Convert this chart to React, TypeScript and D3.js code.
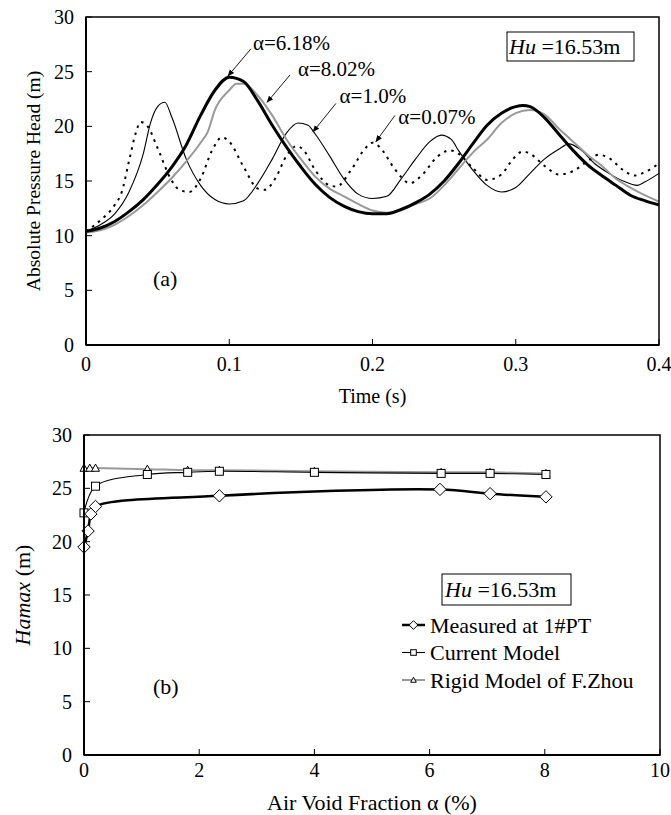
import React from 'react';
import * as d3 from 'd3';

const W = 671;
const H = 815;
const FONT = '"Liberation Serif", "Times New Roman", serif';

// (a) pressure head histories, [time (s), head (m)]
const alpha618 = [
  [0, 10.4], [0.01, 10.7], [0.02, 11.3], [0.03, 12.2], [0.04, 13.3], [0.05, 14.7],
  [0.06, 16.3], [0.07, 18.3], [0.08, 21.0], [0.09, 23.3], [0.1, 24.5], [0.11, 24.1],
  [0.12, 22.3], [0.13, 20.1], [0.14, 18.1], [0.15, 16.3], [0.16, 14.7], [0.17, 13.5],
  [0.18, 12.7], [0.19, 12.2], [0.2, 12.0], [0.21, 12.0], [0.22, 12.4], [0.23, 13.0],
  [0.24, 13.8], [0.25, 15.0], [0.26, 16.6], [0.27, 18.4], [0.28, 20.1], [0.29, 21.2],
  [0.3, 21.8], [0.305, 21.9], [0.31, 21.8], [0.32, 20.8], [0.33, 19.3], [0.34, 17.8],
  [0.35, 16.5], [0.36, 15.5], [0.37, 14.6], [0.38, 13.7], [0.39, 13.2], [0.4, 12.8],
];
const alpha802 = [
  [0, 10.3], [0.01, 10.5], [0.02, 11.0], [0.03, 11.8], [0.04, 12.8], [0.05, 14.0],
  [0.06, 15.3], [0.07, 16.8], [0.08, 18.5], [0.085, 19.5], [0.09, 21.5], [0.1, 23.3],
  [0.105, 23.9], [0.11, 23.9], [0.12, 22.8], [0.13, 21.0], [0.14, 18.8], [0.15, 17.0],
  [0.16, 15.4], [0.17, 14.3], [0.18, 13.6], [0.19, 12.9], [0.2, 12.3], [0.21, 12.1],
  [0.22, 12.3], [0.23, 12.9], [0.24, 13.4], [0.25, 14.6], [0.26, 16.1], [0.27, 17.6],
  [0.28, 18.8], [0.29, 20.3], [0.3, 21.2], [0.31, 21.5], [0.32, 21.1], [0.33, 19.8],
  [0.34, 18.6], [0.35, 17.4], [0.36, 16.4], [0.37, 15.2], [0.38, 14.4], [0.39, 13.7],
  [0.4, 13.1],
];
const alpha10 = [
  [0, 10.4], [0.01, 11.0], [0.02, 12.0], [0.03, 14.0], [0.04, 17.5], [0.045, 20.3],
  [0.05, 21.8], [0.055, 22.2], [0.06, 20.8], [0.07, 17.0], [0.08, 14.6], [0.09, 13.3],
  [0.1, 12.9], [0.11, 13.2], [0.12, 14.8], [0.13, 17.0], [0.14, 19.4], [0.148, 20.3],
  [0.155, 20.1], [0.16, 19.3], [0.17, 17.3], [0.18, 15.2], [0.19, 13.8], [0.2, 13.4],
  [0.21, 13.6], [0.22, 15.2], [0.23, 17.0], [0.24, 18.6], [0.248, 19.2], [0.255, 18.8],
  [0.26, 17.8], [0.27, 16.0], [0.28, 14.6], [0.29, 14.0], [0.3, 14.4], [0.31, 15.7],
  [0.32, 17.0], [0.33, 17.9], [0.337, 18.4], [0.345, 17.9], [0.355, 16.6], [0.365, 15.7],
  [0.375, 15.0], [0.385, 14.6], [0.39, 14.9], [0.4, 15.7],
];
const alpha007 = [
  [0, 10.4], [0.01, 11.4], [0.02, 12.8], [0.025, 14.0], [0.03, 16.8], [0.035, 19.5],
  [0.038, 20.4], [0.043, 20.0], [0.05, 18.0], [0.06, 15.0], [0.065, 14.2], [0.072, 14.0],
  [0.08, 15.2], [0.088, 17.8], [0.095, 19.0], [0.1, 18.6], [0.11, 16.3], [0.12, 14.3],
  [0.125, 14.2], [0.132, 15.2], [0.14, 17.3], [0.147, 18.2], [0.152, 17.8], [0.16, 16.0],
  [0.17, 14.6], [0.175, 14.5], [0.185, 16.0], [0.195, 18.0], [0.2, 18.5], [0.205, 18.1],
  [0.215, 16.2], [0.226, 14.8], [0.235, 15.6], [0.245, 17.2], [0.254, 17.8], [0.26, 17.5],
  [0.27, 16.2], [0.28, 15.1], [0.29, 15.6], [0.298, 17.0], [0.305, 17.7], [0.31, 17.5],
  [0.32, 16.4], [0.33, 15.6], [0.34, 15.9], [0.35, 16.8], [0.358, 17.4], [0.365, 17.1],
  [0.375, 16.0], [0.383, 15.5], [0.39, 15.8], [0.4, 16.6],
];
const timeTicks = [0, 0.1, 0.2, 0.3, 0.4];
const headTicks = [0, 5, 10, 15, 20, 25, 30];

// labels with arrows: text position and arrow start/end, in data units
const curveNotes = [
  { label: 'α=6.18%', tx: 0.1166, ty: 27.0, from: [0.1152, 27.1], to: [0.0991, 24.6] },
  { label: 'α=8.02%', tx: 0.148, ty: 24.6, from: [0.1424, 24.7], to: [0.1264, 22.2] },
  { label: 'α=1.0%', tx: 0.177, ty: 22.1, from: [0.1745, 22.1], to: [0.1585, 19.5] },
  { label: 'α=0.07%', tx: 0.218, ty: 20.2, from: [0.2157, 21.0], to: [0.2024, 18.6] },
];

// (b) maximum head vs air void fraction, [alpha (%), Hamax (m)]
const measured = [
  [0, 19.5], [0.07, 21.0], [0.12, 22.6], [0.2, 23.3], [2.35, 24.3], [6.18, 24.9],
  [7.05, 24.5], [8.02, 24.2],
];
const currentModel = [
  [0, 22.7], [0.2, 25.2], [1.1, 26.3], [1.8, 26.5], [2.35, 26.6], [4.0, 26.5],
  [6.2, 26.4], [7.05, 26.4], [8.02, 26.3],
];
const rigidModel = [
  [0, 26.9], [0.1, 26.9], [0.2, 26.9], [1.1, 26.8], [1.8, 26.7], [2.35, 26.7],
  [4.0, 26.6], [6.2, 26.5], [7.05, 26.5], [8.02, 26.4],
];
const alphaTicks = [0, 2, 4, 6, 8, 10];
const hamaxTicks = [0, 5, 10, 15, 20, 25, 30];

const legendItems = ['Measured at 1#PT', 'Current Model', 'Rigid Model of F.Zhou'];

function Marker({ kind, x, y, s }: { kind: string; x: number; y: number; s: number }) {
  if (kind === 'diamond') {
    const r = s * 0.62;
    return (
      <path d={`M${x},${y - r}L${x + r},${y}L${x},${y + r}L${x - r},${y}Z`}
        fill="white" stroke="black" strokeWidth={1} />
    );
  }
  if (kind === 'square') {
    const r = s / 2;
    return <rect x={x - r} y={y - r} width={s} height={s} fill="white" stroke="black" strokeWidth={1} />;
  }
  const r = s / 2;
  return (
    <path d={`M${x},${y - r}L${x + r},${y + r * 0.8}L${x - r},${y + r * 0.8}Z`}
      fill="white" stroke="black" strokeWidth={1} />
  );
}

function TopChart() {
  const left = 86, right = 659, top = 17, bottom = 345;
  const x = d3.scaleLinear().domain([0, 0.4]).range([left, right]);
  const y = d3.scaleLinear().domain([0, 30]).range([bottom, top]);
  const line = d3.line<number[]>().x(d => x(d[0])).y(d => y(d[1])).curve(d3.curveMonotoneX);

  return (
    <g>
      <path d={line(alpha007)!} fill="none" stroke="black" strokeWidth={2} strokeDasharray="2.5,5" />
      <path d={line(alpha10)!} fill="none" stroke="black" strokeWidth={1.1} />
      <path d={line(alpha802)!} fill="none" stroke="#999" strokeWidth={2} />
      <path d={line(alpha618)!} fill="none" stroke="black" strokeWidth={3} />

      <rect x={left} y={top} width={right - left} height={bottom - top} fill="none" stroke="black" strokeWidth={1.5} />
      <line x1={left} x2={left} y1={top} y2={bottom} stroke="black" strokeWidth={2} />
      <line x1={left} x2={right} y1={bottom} y2={bottom} stroke="black" strokeWidth={2} />

      {headTicks.map(t => (
        <g key={`hy${t}`}>
          <line x1={left} x2={left + 6} y1={y(t)} y2={y(t)} stroke="black" strokeWidth={1} />
          <text x={left - 12} y={y(t)} dy="0.35em" textAnchor="end" fontSize={20}>{t}</text>
        </g>
      ))}
      {timeTicks.map(t => (
        <g key={`tx${t}`}>
          <line x1={x(t)} x2={x(t)} y1={bottom} y2={bottom - 6} stroke="black" strokeWidth={1} />
          <text x={x(t)} y={bottom + 26} textAnchor="middle" fontSize={20}>{t}</text>
        </g>
      ))}

      <text x={(left + right) / 2} y={403} textAnchor="middle" fontSize={20}>Time (s)</text>
      <text transform={`translate(40,${(top + bottom) / 2}) rotate(-90)`} textAnchor="middle" fontSize={19.5}>
        Absolute Pressure Head (m)
      </text>

      {curveNotes.map(n => (
        <g key={n.label}>
          <line x1={x(n.from[0])} y1={y(n.from[1])} x2={x(n.to[0])} y2={y(n.to[1])}
            stroke="black" strokeWidth={0.9} markerEnd="url(#arrowHead)" />
          <text x={x(n.tx)} y={y(n.ty)} fontSize={21}>{n.label}</text>
        </g>
      ))}

      <rect x={507} y={32} width={127} height={29} fill="white" stroke="black" strokeWidth={1} />
      <text x={509} y={54} fontSize={22}>
        <tspan fontStyle="italic">Hu</tspan> =16.53m
      </text>
      <text x={153} y={286} fontSize={22}>(a)</text>
    </g>
  );
}

function BottomChart() {
  const left = 84, right = 660, top = 435, bottom = 755;
  const x = d3.scaleLinear().domain([0, 10]).range([left, right]);
  const y = d3.scaleLinear().domain([0, 30]).range([bottom, top]);
  const line = d3.line<number[]>().x(d => x(d[0])).y(d => y(d[1])).curve(d3.curveCatmullRom.alpha(0.5));

  const series = [
    { data: rigidModel, kind: 'triangle', stroke: '#999', width: 2, s: 8 },
    { data: currentModel, kind: 'square', stroke: 'black', width: 1.1, s: 8 },
    { data: measured, kind: 'diamond', stroke: 'black', width: 2.5, s: 10 },
  ];

  return (
    <g>
      {series.map(s => (
        <path key={s.kind} d={line(s.data)!} fill="none" stroke={s.stroke} strokeWidth={s.width} />
      ))}
      {series.map(s => s.data.map((d, i) => (
        <Marker key={`${s.kind}${i}`} kind={s.kind} x={x(d[0])} y={y(d[1])} s={s.s} />
      )))}

      <rect x={left} y={top} width={right - left} height={bottom - top} fill="none" stroke="black" strokeWidth={1.5} />
      <line x1={left} x2={left} y1={top} y2={bottom} stroke="black" strokeWidth={2} />
      <line x1={left} x2={right} y1={bottom} y2={bottom} stroke="black" strokeWidth={2} />

      {hamaxTicks.map(t => (
        <g key={`by${t}`}>
          <line x1={left} x2={left + 6} y1={y(t)} y2={y(t)} stroke="black" strokeWidth={1} />
          <text x={left - 12} y={y(t)} dy="0.35em" textAnchor="end" fontSize={20}>{t}</text>
        </g>
      ))}
      {alphaTicks.map(t => (
        <g key={`bx${t}`}>
          <line x1={x(t)} x2={x(t)} y1={bottom} y2={bottom - 6} stroke="black" strokeWidth={1} />
          <text x={x(t)} y={bottom + 22} textAnchor="middle" fontSize={20}>{t}</text>
        </g>
      ))}

      <text x={(left + right) / 2} y={810} textAnchor="middle" fontSize={22}>Air Void Fraction α (%)</text>
      <text transform={`translate(30,${(top + bottom) / 2}) rotate(-90)`} textAnchor="middle" fontSize={22}>
        <tspan fontStyle="italic">Hamax</tspan> (m)
      </text>

      <rect x={442} y={574} width={129} height={31} fill="white" stroke="black" strokeWidth={1} />
      <text x={445} y={597} fontSize={22}>
        <tspan fontStyle="italic">Hu</tspan> =16.53m
      </text>

      {legendItems.map((name, i) => {
        const s = series[2 - i];
        const ly = 625 + i * 27.5;
        return (
          <g key={name}>
            <line x1={402} x2={425} y1={ly} y2={ly} stroke={s.stroke} strokeWidth={s.width} />
            <Marker kind={s.kind} x={413.5} y={ly} s={s.s * 0.7} />
            <text x={430} y={ly} dy="0.35em" fontSize={22}>{name}</text>
          </g>
        );
      })}

      <text x={153} y={694} fontSize={22}>(b)</text>
    </g>
  );
}

export default function App() {
  return (
    <svg width={W} height={H} viewBox={`0 0 ${W} ${H}`}
      style={{ position: 'absolute', left: 0, top: 0, background: 'white' }}
      fontFamily={FONT}>
      <defs>
        <marker id="arrowHead" viewBox="0 0 10 10" refX="9" refY="5" markerWidth="7" markerHeight="7"
          markerUnits="userSpaceOnUse" orient="auto">
          <path d="M0,1L10,5L0,9Z" fill="black" />
        </marker>
      </defs>
      <rect width={W} height={H} fill="white" />
      <TopChart />
      <BottomChart />
    </svg>
  );
}
